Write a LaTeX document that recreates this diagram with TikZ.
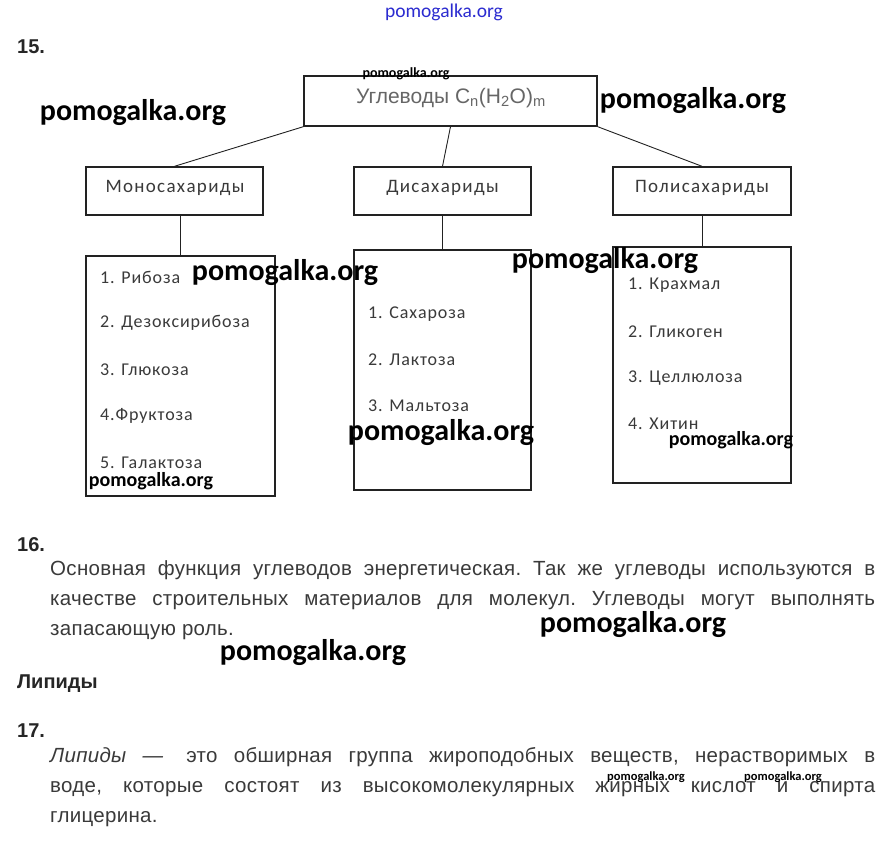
\documentclass[tikz,border=0pt]{standalone}
\usepackage{fontspec}
\setmainfont{Carlito}
\newfontfamily\paraf[LetterSpace=1.5]{Liberation Sans}
\newfontfamily\headf{Liberation Sans}
\newfontfamily\titlef{Liberation Sans}
\newfontfamily\wmf{Carlito}
\newfontfamily\itemf[LetterSpace=5]{Carlito}
\newfontfamily\labelf[LetterSpace=7]{Carlito}
\definecolor{txtgray}{HTML}{3A3A3A}
\definecolor{boxline}{HTML}{222222}
\definecolor{wmblue}{HTML}{2B2BD0}
\tikzset{
  box/.style={draw=boxline, line width=1.4pt, inner sep=0pt},
  conn/.style={draw=boxline, line width=0.9pt},
  item/.style={anchor=west, text=txtgray, font=\itemf\fontsize{18}{20}\selectfont, inner sep=0pt},
  boxlabel/.style={text=txtgray, font=\labelf\fontsize{19}{21}\selectfont},
  head/.style={anchor=west, font=\headf\bfseries\fontsize{20}{22}\selectfont, text=black!85, inner sep=0pt},
  para/.style={anchor=north west, text width=825pt, align=justify, inner sep=0pt, text=txtgray,
    font=\paraf\fontsize{20.5}{30}\selectfont\frenchspacing},
  wmL/.style={font=\wmf\bfseries\fontsize{30}{32}\selectfont, text=black, inner sep=0pt},
  wmM/.style={font=\wmf\bfseries\fontsize{20}{22}\selectfont, text=black, inner sep=0pt},
  wmS/.style={font=\wmf\bfseries\fontsize{14}{16}\selectfont, text=black, inner sep=0pt},
  wmXS/.style={font=\wmf\bfseries\fontsize{12.5}{14}\selectfont, text=black, inner sep=0pt},
}
\begin{document}
\begin{tikzpicture}[x=1pt,y=-1pt]
\useasboundingbox[fill=white] (0,0) rectangle (887,841);

% headings
\node[head] (h15) at (17,47) {15.};
\node[head] (h16) at (17,545) {16.};
\node[head] (hlip) at (17,684) {Липиды};
\node[head] (h17) at (17,731) {17.};

% top box
\node[box, minimum width=293pt, minimum height=50pt] (top) at (450.5,101) {};
\node[text=black!60, font=\titlef\fontsize{21}{23}\selectfont] (toplabel) at (451,98)
  {Углеводы C\textsubscript{n}(H\textsubscript{2}O)\textsubscript{m}};

% second level
\node[box, minimum width=177pt, minimum height=48pt] (mono) at (174.5,191) {};
\node[boxlabel] (monolabel) at (175,188) {Моносахариды};
\node[box, minimum width=177pt, minimum height=48pt] (di) at (442.5,191) {};
\node[boxlabel] (dilabel) at (442.5,188) {Дисахариды};
\node[box, minimum width=178pt, minimum height=48pt] (poly) at (702,191) {};
\node[boxlabel] (polylabel) at (702,188) {Полисахариды};

% list boxes
\node[box, minimum width=189pt, minimum height=240pt] (monolist) at (180.5,376) {};
\node[box, minimum width=177pt, minimum height=240pt] (dilist) at (442.5,370) {};
\node[box, minimum width=178pt, minimum height=236pt] (polylist) at (702,365) {};

% connectors
\draw[conn] (top.south west) -- (mono.north);
\draw[conn] (top.south) -- (di.north);
\draw[conn] (top.south east) -- (poly.north);
\draw[conn] (mono.south -| monolist.north) -- (monolist.north);
\draw[conn] (di.south) -- (dilist.north);
\draw[conn] (poly.south) -- (polylist.north);

% list items
\node[item] (m1) at (100,277) {1. Рибоза};
\node[item] (m2) at (100,323) {2. Дезоксирибоза};
\node[item] (m3) at (100,370) {3. Глюкоза};
\node[item] (m4) at (100,416) {4.Фруктоза};
\node[item] (m5) at (100,463) {5. Галактоза};

\node[item] (d1) at (368,314) {1. Сахароза};
\node[item] (d2) at (368,360) {2. Лактоза};
\node[item] (d3) at (368,406) {3. Мальтоза};

\node[item] (p1) at (628,285) {1. Крахмал};
\node[item] (p2) at (628,332) {2. Гликоген};
\node[item] (p3) at (628,378) {3. Целлюлоза};
\node[item] (p4) at (628,424) {4. Хитин};

% paragraphs
\node[para] (p16) at (50,560) {Основная функция углеводов энергетическая. Так же углеводы используются в\linebreak
качестве строительных материалов для молекул. Углеводы могут выполнять\linebreak
запасающую роль.};
\node[para] (p17) at (50,747) {\textit{Липиды —}\,\, это обширная группа жироподобных веществ, нерастворимых в\linebreak
воде, которые состоят из высокомолекулярных жирных кислот и спирта\linebreak
глицерина.};

% watermarks
\node[font=\wmf\fontsize{19.5}{20}\selectfont, text=wmblue, inner sep=0pt] (wm0) at (444,12) {pomogalka.org};
\node[wmS] (wm1) at (406,74) {pomogalka.org};
\node[wmL] (wm2) at (133,113) {pomogalka.org};
\node[wmL] (wm3) at (693,101) {pomogalka.org};
\node[wmL] (wm4) at (285,273) {pomogalka.org};
\node[wmL] (wm5) at (605,261) {pomogalka.org};
\node[wmL] (wm6) at (441,433) {pomogalka.org};
\node[wmM] (wm7) at (151,481) {pomogalka.org};
\node[wmM] (wm8) at (731,440) {pomogalka.org};
\node[wmL] (wm9) at (633,625) {pomogalka.org};
\node[wmL] (wm10) at (313,653) {pomogalka.org};
\node[wmXS] (wm11) at (646,777) {pomogalka.org};
\node[wmXS] (wm12) at (783,777) {pomogalka.org};
\end{tikzpicture}
\end{document}
